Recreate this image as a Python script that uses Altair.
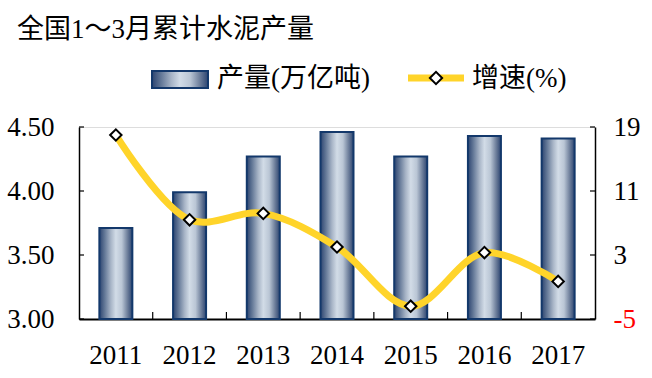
import altair as alt
import pandas as pd

# ---- data ----
years = ["2011", "2012", "2013", "2014", "2015", "2016", "2017"]
output = [3.71, 3.99, 4.27, 4.46, 4.27, 4.43, 4.41]      # 产量(万亿吨)
growth = [18.0, 7.4, 8.2, 4.0, -3.4, 3.3, -0.3]          # 增速(%)
left_ticks = [3.0, 3.5, 4.0, 4.5]
right_ticks = [-5, 3, 11, 19]
title_text = "全国1～3月累计水泥产量"
bar_label = "产量(万亿吨)"
line_label = "增速(%)"

df = pd.DataFrame({"year": years, "output": output, "growth": growth})
df_lt = pd.DataFrame({"v": left_ticks})
df_rt = pd.DataFrame({"v": right_ticks})
df_xt = pd.DataFrame({"year": years[1:]})

W, H = 516, 192
FONT = "'Liberation Serif', 'Noto Sans CJK SC'"
YELLOW = "#FFD42A"
NAVY = "#13386B"
FS = 27

grad = alt.LinearGradient(
    gradient="linear",
    x1=0, x2=1, y1=0, y2=0,
    stops=[
        alt.GradientStop(offset=0.0, color="#2C4470"),
        alt.GradientStop(offset=0.15, color="#5F7494"),
        alt.GradientStop(offset=0.35, color="#A8B5C7"),
        alt.GradientStop(offset=0.5, color="#D2DCE7"),
        alt.GradientStop(offset=0.68, color="#BAC6D5"),
        alt.GradientStop(offset=0.85, color="#6F809C"),
        alt.GradientStop(offset=1.0, color="#2C4470"),
    ],
)

xscale = alt.Scale(paddingInner=0, paddingOuter=0)
xenc = alt.X("year:N", scale=xscale, sort=years,
             axis=alt.Axis(title=None, labelAngle=0, ticks=False,
                           domainColor="black", domainWidth=2,
                           labelFontSize=FS, labelFont=FONT, labelColor="black",
                           labelPadding=23))
yleft = alt.Scale(domain=[3.0, 4.5], zero=False, nice=False)
yright = alt.Scale(domain=[-5, 19], zero=False, nice=False)

bars = alt.Chart(df).mark_bar(size=33, fill=grad, stroke=NAVY, strokeWidth=2).encode(
    x=xenc,
    y=alt.Y("output:Q", scale=yleft,
            axis=alt.Axis(title=None, orient="left", values=left_ticks, format=".2f",
                          ticks=False, grid=False, domainColor="black", domainWidth=1.5,
                          labelFontSize=FS, labelFont=FONT, labelColor="black",
                          labelPadding=25)),
    y2=alt.datum(3.0),
)

lticks = alt.Chart(df_lt).mark_rule(color="black", strokeWidth=1.2).encode(
    y=alt.Y("v:Q", scale=yleft), x=alt.value(0), x2=alt.value(5))

xticks = alt.Chart(df_xt).mark_rule(color="black", strokeWidth=1.2).encode(
    x=alt.X("year:N", scale=xscale, sort=years, bandPosition=0),
    y=alt.value(H), y2=alt.value(H - 7))

# manual legend
leg_rect = alt.Chart(df.head(1)).mark_rect(fill=grad, stroke=NAVY, strokeWidth=2).encode(
    x=alt.value(73), x2=alt.value(129), y=alt.value(-56), y2=alt.value(-39))
leg_text1 = alt.Chart(df.head(1)).mark_text(
    text=bar_label, font=FONT, fontSize=FS, align="left", baseline="middle", color="black"
).encode(x=alt.value(138), y=alt.value(-48))
leg_line = alt.Chart(df.head(1)).mark_rule(color=YELLOW, strokeWidth=7).encode(
    x=alt.value(329), x2=alt.value(385), y=alt.value(-49))
leg_pt = alt.Chart(df.head(1)).mark_point(
    shape="diamond", filled=True, fill="white", stroke="black", strokeWidth=2, size=150, opacity=1
).encode(x=alt.value(357), y=alt.value(-49))
leg_text2 = alt.Chart(df.head(1)).mark_text(
    text=line_label, font=FONT, fontSize=FS, align="left", baseline="middle", color="black"
).encode(x=alt.value(393), y=alt.value(-48))

left = alt.layer(bars, lticks, xticks, leg_rect, leg_text1, leg_line, leg_pt, leg_text2)

line = alt.Chart(df).mark_line(color=YELLOW, strokeWidth=7, interpolate="catmull-rom").encode(
    x=alt.X("year:N", scale=xscale, sort=years),
    y=alt.Y("growth:Q", scale=yright,
            axis=alt.Axis(title=None, orient="right", values=right_ticks,
                          labelExpr="'' + datum.value",
                          ticks=False, grid=False, domainColor="black", domainWidth=1.5,
                          labelFontSize=FS, labelFont=FONT,
                          labelColor=alt.expr("datum.value < 0 ? 'red' : 'black'"),
                          labelPadding=18)),
)
pts = alt.Chart(df).mark_point(
    shape="diamond", filled=True, fill="white", stroke="black", strokeWidth=2, size=130, opacity=1
).encode(x=alt.X("year:N", scale=xscale, sort=years), y=alt.Y("growth:Q", scale=yright))
rticks = alt.Chart(df_rt).mark_rule(color="black", strokeWidth=1.2).encode(
    y=alt.Y("v:Q", scale=yright), x=alt.value(W - 5), x2=alt.value(W))

right = alt.layer(line, pts, rticks)

chart = alt.layer(left, right).resolve_scale(y="independent").properties(
    width=W, height=H,
    title=alt.TitleParams(title_text, anchor="start", frame="group", font=FONT,
                          fontSize=FS, fontWeight="normal", color="black",
                          dx=-62, offset=21),
    autosize=alt.AutoSizeParams(type="none"),
    padding={"left": 79, "top": 127, "right": 57, "bottom": 59},
).configure_view(stroke=None).configure(background="white")

chart.save("out.html", embed_options={"renderer": "svg", "actions": False})
